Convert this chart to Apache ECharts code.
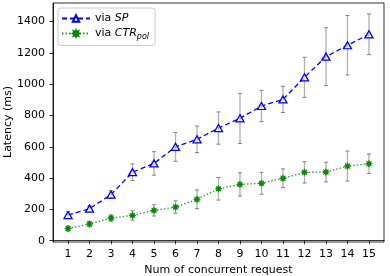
<!DOCTYPE html>
<html>
<head>
<meta charset="utf-8">
<script src="https://cdn.jsdelivr.net/npm/echarts@6/dist/echarts.min.js"></script>
<style>html,body{margin:0;padding:0;background:#fff}#c{width:390px;height:276px}</style>
</head>
<body>
<div id="c"></div>
<script>
const xs = [1,2,3,4,5,6,7,8,9,10,11,12,13,14,15];
const spVals = [164,205,295,438,494,600,648,720,782,861,903,1044,1176,1249,1319];
const spErr  = [22,20,25,53,75,92,85,103,160,100,84,128,185,190,130];
const ctrVals = [78,107,145,162,194,215,265,332,360,367,399,437,439,477,492];
const ctrErr  = [15,15,20,30,36,40,60,72,74,70,60,68,63,96,62];
const yTicks = [0,200,400,600,800,1000,1200,1400];
const yTitle = 'Latency (ms)';
const xTitle = 'Num of concurrent request';

const chart = echarts.init(document.getElementById('c'), null, {renderer:'canvas'});
const font = 'DejaVu Sans';
const fs = 11;
const spData = xs.map((x,i)=>[x, spVals[i]]);
const ctrData = xs.map((x,i)=>[x, ctrVals[i]]);
const spErrData = xs.map((x,i)=>[x, spVals[i], spErr[i]]);
const ctrErrData = xs.map((x,i)=>[x, ctrVals[i], ctrErr[i]]);

function errItem(params, api){
  const x = api.value(0), y = api.value(1), e = api.value(2);
  const t = api.coord([x, y+e]), b = api.coord([x, y-e]);
  const cw = 2;
  return {type:'group', children:[
    {type:'line', shape:{x1:t[0],y1:t[1],x2:b[0],y2:b[1]}, style:{stroke:'#b0b0b0', lineWidth:1.3}},
    {type:'line', shape:{x1:t[0]-cw,y1:t[1],x2:t[0]+cw,y2:t[1]}, style:{stroke:'#808080', lineWidth:1}},
    {type:'line', shape:{x1:b[0]-cw,y1:b[1],x2:b[0]+cw,y2:b[1]}, style:{stroke:'#808080', lineWidth:1}}
  ]};
}
const starPath = 'path://M0,-10 L2.2,-5.3 L7.1,-7.1 L5.3,-2.2 L10,0 L5.3,2.2 L7.1,7.1 L2.2,5.3 L0,10 L-2.2,5.3 L-7.1,7.1 L-5.3,2.2 L-10,0 L-5.3,-2.2 L-7.1,-7.1 L-2.2,-5.3 Z';

chart.setOption({
  animation:false,
  textStyle:{fontFamily:font},
  grid:{left:53, right:6, top:3, bottom:34, outerBoundsMode:'none', containLabel:false},
  legend:{
    left:58, top:8, orient:'vertical', itemGap:4, itemWidth:28, itemHeight:8,
    padding:[5,6,5,3],
    borderColor:'#cccccc', borderWidth:1, borderRadius:3, backgroundColor:'#fff',
    data:['via SP','via CTR_pol'],
    formatter: n => n==='via SP' ? 'via {i|SP}' : 'via {i|CTR}{s|pol}',
    textStyle:{fontFamily:font, fontSize:fs, color:'#000',
      rich:{i:{fontFamily:font, fontSize:fs, fontStyle:'italic', color:'#000'},
            s:{fontFamily:font, fontSize:8, fontStyle:'italic', color:'#000', verticalAlign:'bottom', padding:[6,0,0,0]}}}
  },
  xAxis:{
    type:'value', min:0.3, max:15.7,
    name:xTitle, nameLocation:'middle', nameGap:22,
    nameTextStyle:{fontFamily:font, fontSize:fs, color:'#000'},
    axisLine:{show:true, lineStyle:{color:'#000', width:0.8}},
    axisTick:{show:true, length:3.5, lineStyle:{color:'#000', width:0.8}, customValues:xs},
    axisLabel:{fontFamily:font, fontSize:fs, color:'#000', margin:7, customValues:xs, formatter: v => String(v)},
    splitLine:{show:false}
  },
  yAxis:{
    type:'value', min:-8, max:1519,
    axisLine:{show:true, lineStyle:{color:'#000', width:0.8}},
    axisTick:{show:true, length:3.5, lineStyle:{color:'#000', width:0.8}, customValues:yTicks},
    axisLabel:{fontFamily:font, fontSize:fs, color:'#000', margin:8, customValues:yTicks, formatter: v => String(v)},
    splitLine:{show:false}
  },
  graphic:[
    {type:'rect', shape:{x:53, y:3, width:331, height:239}, style:{fill:'none', stroke:'#000', lineWidth:0.8}, silent:true, z:-1},
    {type:'text', x:8, y:122, rotation:Math.PI/2, silent:true,
      style:{text:yTitle, fontFamily:font, fontSize:fs, fill:'#000', align:'center', verticalAlign:'middle'}}
  ],
  series:[
    {type:'custom', name:'spErr', renderItem:errItem, data:spErrData, encode:{x:0,y:1}, z:1, silent:true},
    {type:'custom', name:'ctrErr', renderItem:errItem, data:ctrErrData, encode:{x:0,y:1}, z:1, silent:true},
    {type:'line', name:'via SP', data:spData, z:3,
      lineStyle:{color:'#0000ff', width:1.3, type:[5,3]},
      symbol:'triangle', symbolSize:[8,7], showAllSymbol:true,
      itemStyle:{color:'rgba(255,255,255,0.6)', borderColor:'#0000ff', borderWidth:1.3}},
    {type:'line', name:'via CTR_pol', data:ctrData, z:3,
      lineStyle:{color:'#2ca02c', width:1.3, type:[1.5,2]},
      symbol:starPath, symbolSize:7, showAllSymbol:true,
      itemStyle:{color:'#0a870a', borderColor:'#0a870a', borderWidth:0.5}}
  ]
});
</script>
</body>
</html>
